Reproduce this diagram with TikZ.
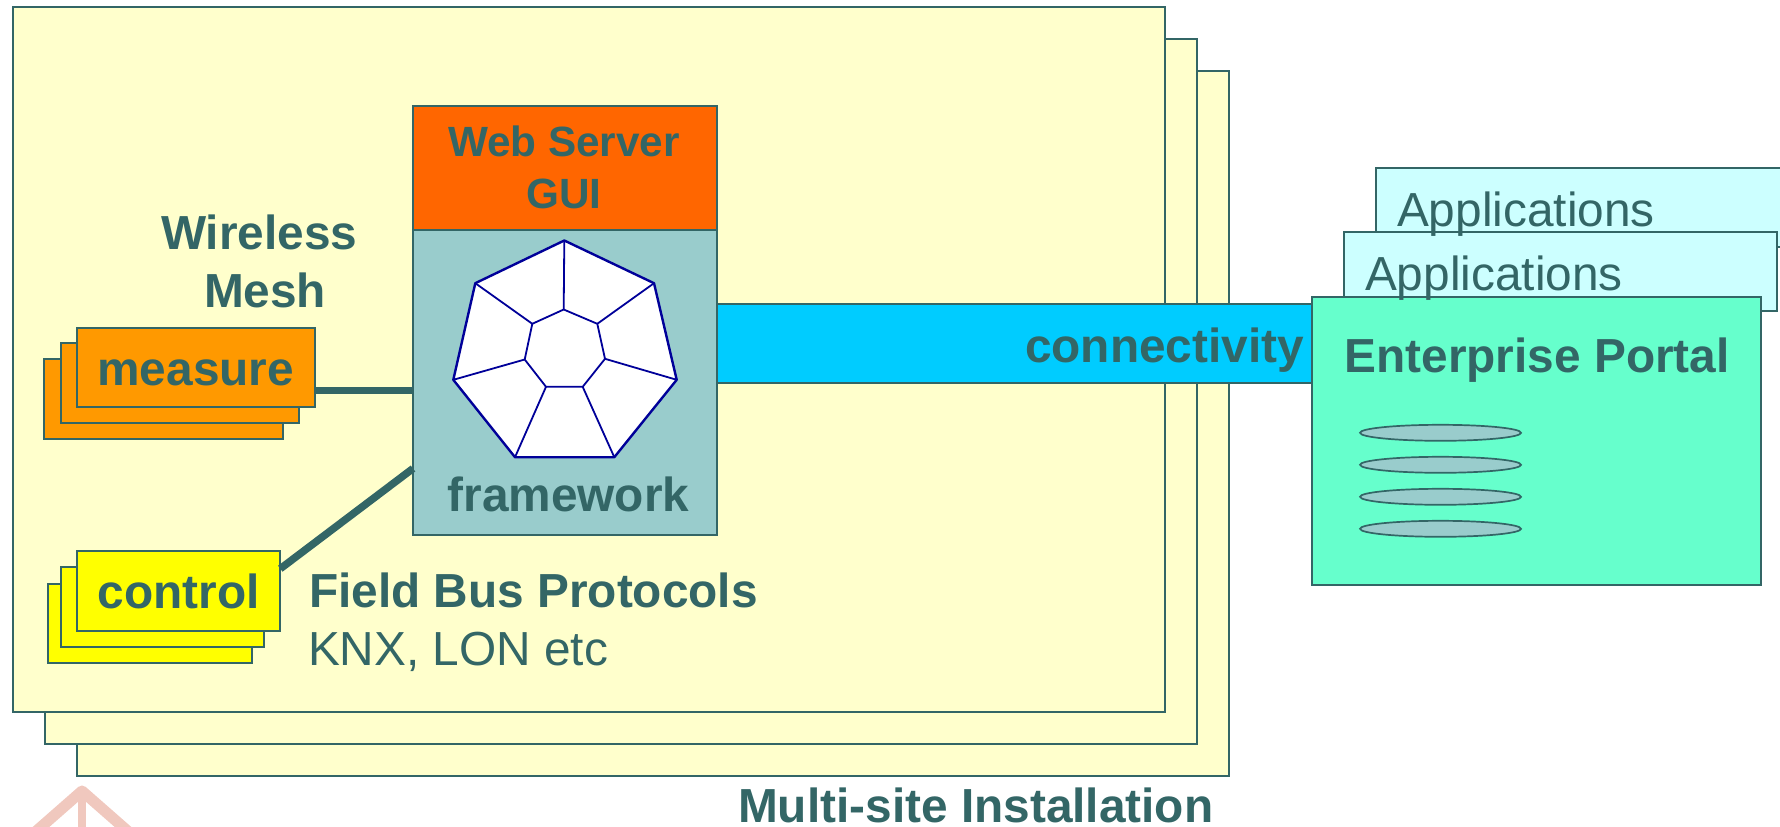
\documentclass[tikz,border=0pt]{standalone}
\usepackage{fontspec}
\setmainfont{Liberation Sans}
\definecolor{ink}{HTML}{336666}
\definecolor{sitefill}{HTML}{FFFFCC}
\definecolor{webfill}{HTML}{FF6600}
\definecolor{fwfill}{HTML}{99CCCC}
\definecolor{barfill}{HTML}{00CCFF}
\definecolor{measfill}{HTML}{FF9900}
\definecolor{ctlfill}{HTML}{FFFF00}
\definecolor{portalfill}{HTML}{66FFCC}
\definecolor{appfill}{HTML}{CCFFFF}
\definecolor{hepline}{HTML}{000099}
\definecolor{markpink}{HTML}{F0C8BE}
\tikzset{
  boxrect/.style={draw=ink,line width=2pt,rectangle,inner sep=0pt,outer sep=0pt},
  sz/.style 2 args={minimum width=#1pt,minimum height=#2pt},
  boldtxt/.style={anchor=base west,inner sep=0pt,outer sep=0pt,text=ink,font=\fontsize{47.8}{50}\selectfont\bfseries},
  webtxt/.style={anchor=base,inner sep=0pt,outer sep=0pt,text=ink,font=\fontsize{42.3}{46}\selectfont\bfseries},
  plaintxt/.style={anchor=base west,inner sep=0pt,outer sep=0pt,text=ink,font=\fontsize{47.8}{50}\selectfont},
  disk/.style={ellipse,draw=ink,line width=1.7pt,fill=fwfill,inner sep=0pt,outer sep=0pt,minimum width=161pt,minimum height=16pt},
  link/.style={draw=ink,line width=7.5pt},
  hep/.style={draw=hepline,line width=1.8pt,line join=round},
  hepo/.style={draw=hepline,line width=2.4pt,line join=round,fill=white}
}
\usetikzlibrary{shapes.geometric}
\begin{document}
\begin{tikzpicture}[x=1pt,y=-1pt]
\useasboundingbox (0,0) rectangle (1780,827);
\begin{scope}
\clip (0,0) rectangle (1780,827);
% faint mark, bottom left
\draw[markpink,line width=11pt,line join=round] (33,834) -- (82,791) -- (131,834);
\draw[markpink,line width=8pt] (82,791) -- (82,835);
% sites
\node[boxrect,fill=sitefill,sz={1152}{705}] (s3) at (653,423) {};
\node[boxrect,fill=sitefill,sz={1152}{705}] (s2) at (621,391) {};
\node[boxrect,fill=sitefill,sz={1152}{705}] (s1) at (589,359) {};
% framework
\node[boxrect,fill=webfill,sz={304}{124}] (web) at (565,167.5) {};
\node[boxrect,fill=fwfill,sz={304}{305}] (fw) at (565,382) {};
% connectivity
\node[boxrect,fill=barfill,sz={595}{78.7}] (bar) at (1014.5,343.5) {};
% applications, portal
\node[boxrect,fill=appfill,sz={430}{78.7}] (a1) at (1591,207.5) {};
\node[boxrect,fill=appfill,sz={433}{79.3}] (a2) at (1560.5,271.5) {};
\node[boxrect,fill=portalfill,sz={448.7}{288}] (portal) at (1536.7,440.5) {};
\node[disk] (d1) at (1440.5,432.8) {};
\node[disk] (d2) at (1440.5,464.8) {};
\node[disk] (d3) at (1440.5,496.8) {};
\node[disk] (d4) at (1440.5,528.8) {};
% measure, control stacks
\node[boxrect,fill=measfill,sz={238.7}{79.7}] (m3) at (163.7,399.3) {};
\node[boxrect,fill=measfill,sz={238}{79.7}] (m2) at (179.7,382.7) {};
\node[boxrect,fill=measfill,sz={238.6}{79.4}] (m1) at (196,367.5) {};
\node[boxrect,fill=ctlfill,sz={203.7}{79.4}] (c3) at (149.9,623.5) {};
\node[boxrect,fill=ctlfill,sz={203.6}{79.4}] (c2) at (162.5,606.8) {};
\node[boxrect,fill=ctlfill,sz={203.6}{79.7}] (c1) at (178.5,590.7) {};
% links
\draw[link] ([yshift=-23pt]m1.east) -- ([yshift=-8.5pt]fw.west);
\draw[link] ([yshift=22pt]c1.east) -- ([yshift=-86.5pt]fw.west);
% heptagon
\coordinate (o1) at (564.3,240.5);
\coordinate (o2) at (654,283.2);
\coordinate (o3) at (676.7,379.8);
\coordinate (o4) at (614.3,457.2);
\coordinate (o5) at (515,457.2);
\coordinate (o6) at (453.3,379.8);
\coordinate (o7) at (475.3,283.2);
\coordinate (i1) at (563.7,309.5);
\coordinate (i2) at (597.3,323.8);
\coordinate (i3) at (605,358.8);
\coordinate (i4) at (582.7,386.8);
\coordinate (i5) at (546,386.8);
\coordinate (i6) at (524.7,359.5);
\coordinate (i7) at (532.3,323.8);
\draw[hepo] (o1) -- (o2) -- (o3) -- (o4) -- (o5) -- (o6) -- (o7) -- cycle;
\draw[hep] (i1) -- (i2) -- (i3) -- (i4) -- (i5) -- (i6) -- (i7) -- cycle;
\draw[hep] (o1) -- (i1) (o2) -- (i2) (o3) -- (i3) (o4) -- (i4) (o5) -- (i5) (o6) -- (i6) (o7) -- (i7);
% texts
\node[webtxt] (t1) at (564,156.5) {Web Server};
\node[webtxt] (t2) at (564,208.5) {GUI};
\node[boldtxt] (t3) at (447.5,511.5) {framework};
\node[boldtxt] (t4) at (161,249.5) {Wireless};
\node[boldtxt] (t5) at (204,307.5) {Mesh};
\node[boldtxt] (t6) at (97.5,385.5) {measure};
\node[boldtxt] (t7) at (97.5,608.5) {control};
\node[boldtxt] (t8) at (309,607.5) {Field Bus Protocols};
\node[plaintxt] (t9) at (308,665.5) {KNX, LON etc};
\node[boldtxt] (t10) at (1025,362) {connectivity};
\node[boldtxt] (t11) at (1344.5,372) {Enterprise Portal};
\node[plaintxt] (t12) at (1397,226) {Applications};
\node[plaintxt] (t13) at (1365,290) {Applications};
\node[boldtxt] (t14) at (738,822.7) {Multi-site Installation};
\end{scope}
\end{tikzpicture}
\end{document}
